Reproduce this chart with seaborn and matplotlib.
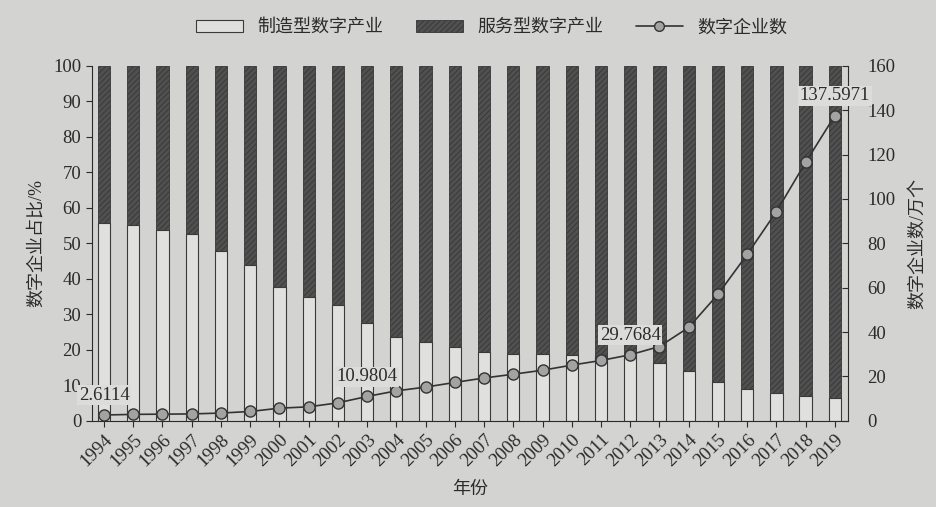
import numpy as np
import matplotlib.pyplot as plt
import seaborn as sns
from matplotlib.patches import Patch
from matplotlib.lines import Line2D

years = [str(y) for y in range(1994, 2020)]
# share of manufacturing-type digital industry (%)
manuf_share = [55.8, 55.1, 53.7, 52.5, 47.8, 44.0, 37.8, 34.9, 32.5, 27.6,
               23.7, 22.1, 20.8, 19.5, 18.9, 18.7, 18.5, 18.3, 18.5, 16.4,
               13.9, 10.9, 9.1, 7.8, 7.1, 6.5]
# share of service-type digital industry (%)
service_share = [44.2, 44.9, 46.3, 47.5, 52.2, 56.0, 62.2, 65.1, 67.5, 72.4,
                 76.3, 77.9, 79.2, 80.5, 81.1, 81.3, 81.5, 81.7, 81.5, 83.6,
                 86.1, 89.1, 90.9, 92.2, 92.9, 93.5]
# number of digital enterprises (10k)
firm_count = [2.6114, 2.9, 3.0, 3.1, 3.5, 4.2, 5.7, 6.3, 8.1, 10.9804,
              13.5, 15.2, 17.3, 19.3, 21.0, 22.8, 25.1, 27.2, 29.7684, 33.5,
              42.1, 57.0, 75.0, 94.3, 116.5, 137.5971]
labelled = {"1994": "2.6114", "2003": "10.9804", "2012": "29.7684", "2019": "137.5971"}

BG = "#d3d3d1"
INK = "#2b2b2b"

sns.set_style("ticks")
plt.rcParams["font.family"] = ["Liberation Serif", "Noto Sans CJK SC"]
plt.rcParams["hatch.linewidth"] = 0.6
plt.rcParams["text.color"] = INK
plt.rcParams["axes.labelcolor"] = INK
plt.rcParams["xtick.color"] = INK
plt.rcParams["ytick.color"] = INK

fig = plt.figure(figsize=(9.36, 5.07), dpi=100, facecolor=BG)
ax = fig.add_axes([0.098, 0.170, 0.808, 0.700])
ax.set_facecolor(BG)

total = [m + s for m, s in zip(manuf_share, service_share)]
sns.barplot(x=years, y=total, ax=ax, color="#505050", saturation=1, width=0.42,
            errorbar=None, edgecolor="#363636", linewidth=0.6, hatch="//////")
sns.barplot(x=years, y=manuf_share, ax=ax, color="#e0e0de", saturation=1, width=0.42,
            errorbar=None, edgecolor="#3a3a3a", linewidth=0.8)

ax.set_ylim(0, 100)
ax.set_yticks(range(0, 101, 10))
ax.set_xlim(-0.42, len(years) - 0.55)
ax.tick_params(axis="y", direction="out", labelsize=13.5, length=4)
ax.tick_params(axis="x", direction="out", labelsize=13.5, length=4)
plt.setp(ax.get_xticklabels(), rotation=45, ha="right", rotation_mode="anchor")
ax.set_xlabel("年份", fontsize=13, labelpad=8)
ax.set_ylabel("数字企业占比/%", fontsize=13, labelpad=6)
for s in ["left", "bottom"]:
    ax.spines[s].set_color(INK)
ax.spines["top"].set_visible(False)
ax.spines["right"].set_visible(False)

ax2 = ax.twinx()
xs = np.arange(len(years))
sns.lineplot(x=xs, y=firm_count, ax=ax2, color="#333333", linewidth=1.2,
             marker="o", markersize=8, markerfacecolor="#a3a3a3",
             markeredgecolor="#333333", markeredgewidth=1.0)
ax2.set_ylim(0, 160)
ax2.set_yticks(range(0, 161, 20))
ax2.set_xlim(-0.42, len(years) - 0.55)
ax2.tick_params(axis="y", direction="in", labelsize=13.5, length=4, pad=14)
ax2.set_ylabel("数字企业数/万个", fontsize=13, rotation=90, labelpad=10)
ax2.spines["right"].set_color(INK)
ax2.spines["top"].set_visible(False)
ax2.spines["left"].set_visible(False)
ax2.spines["bottom"].set_visible(False)

for i, y in enumerate(years):
    if y in labelled:
        ax2.annotate(labelled[y], (i, firm_count[i]), xytext=(0, 8),
                     textcoords="offset points", ha="center", va="bottom",
                     fontsize=13.5, color=INK,
                     bbox=dict(boxstyle="square,pad=0.08", fc="#dcdcda", ec="none"))

handles = [
    Patch(facecolor="#e0e0de", edgecolor="#3a3a3a", linewidth=0.8),
    Patch(facecolor="#505050", edgecolor="#363636", linewidth=0.6, hatch="//////"),
    Line2D([], [], color="#333333", linewidth=1.2, marker="o", markersize=7,
           markerfacecolor="#a3a3a3", markeredgecolor="#333333"),
]
fig.legend(handles, ["制造型数字产业", "服务型数字产业", "数字企业数"],
           loc="center", bbox_to_anchor=(0.525, 0.945), ncol=3, frameon=False,
           fontsize=13, handlelength=2.6, handleheight=0.6, columnspacing=1.8)

plt.savefig("out.png", dpi=100, facecolor=BG)
plt.close()
